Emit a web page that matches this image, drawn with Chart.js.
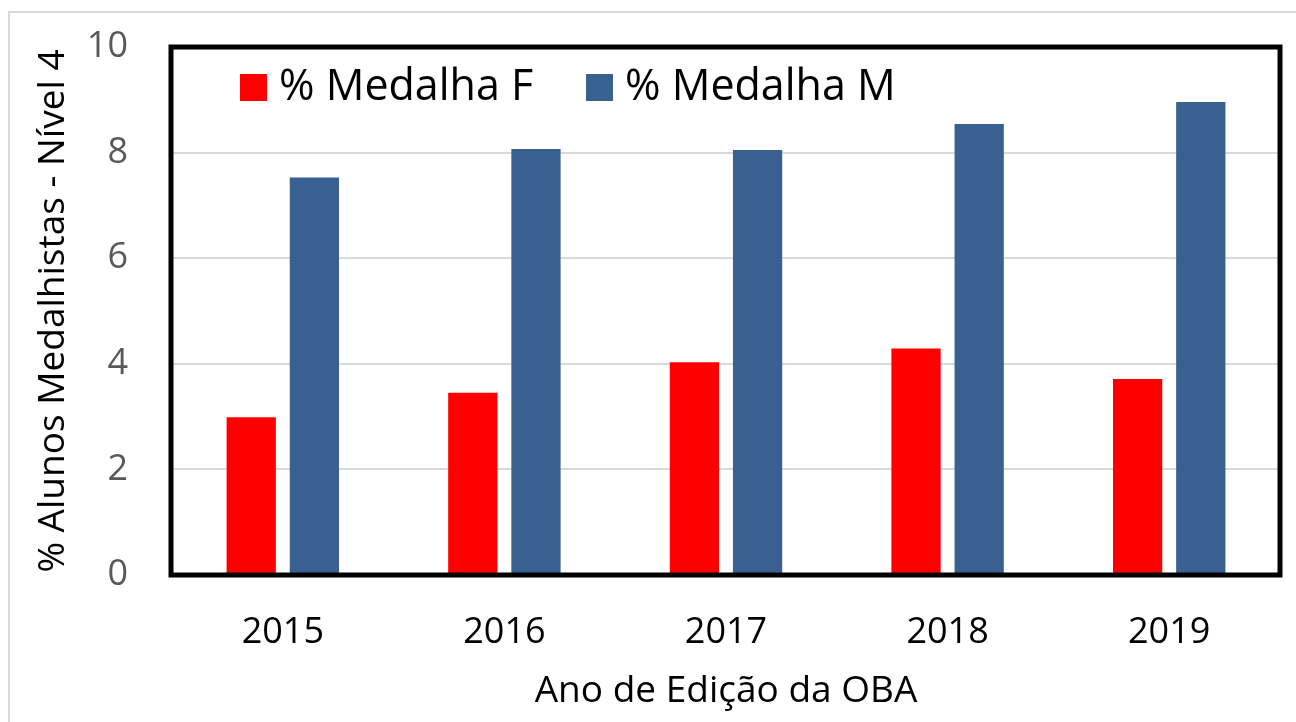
<!DOCTYPE html>
<html>
<head>
<meta charset="utf-8">
<script src="https://cdn.jsdelivr.net/npm/chart.js@4/dist/chart.umd.min.js"></script>
<style>
  body { margin: 0; background: #fff; }
  #wrap { position: relative; width: 1296px; height: 722px; overflow: hidden; }
  #frame { position: absolute; left: 8px; top: 11px; width: 1300px; height: 730px; border: 2px solid #d9d9d9; }
  canvas { position: absolute; left: 0; top: 0; }
</style>
</head>
<body>
<div id="wrap">
  <div id="frame"></div>
  <canvas id="chart" width="1296" height="722"></canvas>
</div>
<script>
// data
const years = ["2015", "2016", "2017", "2018", "2019"]
const medalhaF = [2.99, 3.45, 4.03, 4.29, 3.71]
const medalhaM = [7.53, 8.07, 8.05, 8.54, 8.96]
const yTicks = [0, 2, 4, 6, 8, 10]

const fontFamily = "'Open Sans', sans-serif"

// black frame around the plot area
const plotBorder = {
  id: "plotBorder",
  afterDraw(chart) {
    const { ctx, chartArea } = chart
    ctx.save()
    ctx.strokeStyle = "#000"
    ctx.lineWidth = 5
    ctx.strokeRect(chartArea.left - 1, chartArea.top, chartArea.right - chartArea.left + 1, chartArea.bottom - chartArea.top)
    ctx.restore()
  },
}

// legend in one row inside the plot area, as in the original
const insideLegend = {
  id: "insideLegend",
  afterDraw(chart) {
    const { ctx, chartArea } = chart
    const startX = [68, 414]
    ctx.save()
    ctx.font = "43px " + fontFamily
    ctx.textBaseline = "middle"
    chart.data.datasets.forEach((ds, i) => {
      const x = chartArea.left + startX[i]
      const y = chartArea.top + 27
      ctx.fillStyle = ds.backgroundColor
      ctx.fillRect(x, y, 27, 27)
      ctx.fillStyle = "#000"
      ctx.fillText(ds.label, x + 39, y + 14)
    })
    ctx.restore()
  },
}

let ctx = document.getElementById("chart").getContext("2d")

new Chart(ctx, {
  type: "bar",
  data: {
    labels: years,
    datasets: [
      {
        label: "% Medalha F",
        data: medalhaF,
        backgroundColor: "#ff0000",
        categoryPercentage: 0.57,
        barPercentage: 0.78,
      },
      {
        label: "% Medalha M",
        data: medalhaM,
        backgroundColor: "#386192",
        categoryPercentage: 0.57,
        barPercentage: 0.78,
      },
    ],
  },
  options: {
    responsive: false,
    animation: false,
    layout: { padding: { top: 47, right: 16, left: 0, bottom: 0 } },
    scales: {
      x: {
        grid: { display: false, drawTicks: false },
        border: { display: false },
        ticks: { color: "#000", padding: 36, font: { family: fontFamily, size: 36 } },
        title: {
          display: true,
          text: "Ano de Edição da OBA",
          color: "#000",
          padding: { top: 0, bottom: 8 },
          font: { family: fontFamily, size: 37 },
        },
        afterFit(scale) { scale.height = 147 },
      },
      y: {
        min: 0,
        max: 10,
        afterBuildTicks(scale) { scale.ticks = yTicks.map((v) => ({ value: v })) },
        grid: { color: "#d9d9d9", lineWidth: 2, drawTicks: false },
        border: { display: false },
        ticks: { color: "#595959", padding: 44, font: { family: fontFamily, size: 36, lineHeight: 0.5 } },
        title: {
          display: true,
          text: "% Alunos Medalhistas - Nível 4",
          color: "#000",
          padding: { top: 31, bottom: 0 },
          font: { family: fontFamily, size: 37 },
        },
        afterFit(scale) {
          scale.width = 172
          scale.paddingTop = 0
        },
      },
    },
    plugins: {
      legend: { display: false },
      tooltip: { enabled: false },
    },
  },
  plugins: [plotBorder, insideLegend],
})
</script>
</body>
</html>
